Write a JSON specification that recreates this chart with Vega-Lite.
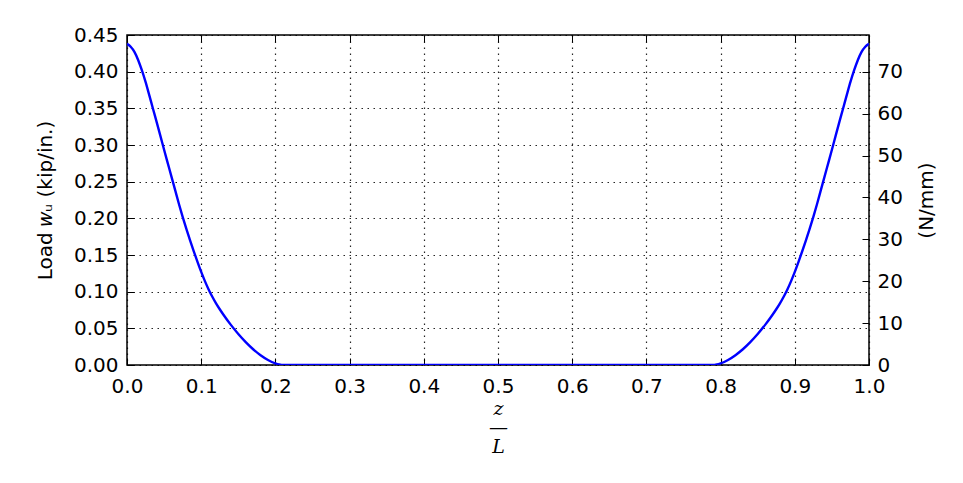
{
  "$schema": "https://vega.github.io/schema/vega-lite/v6.json",
  "width": 742,
  "height": 330,
  "autosize": {"type": "none"},
  "padding": {"left": 127, "top": 35, "right": 94, "bottom": 118},
  "background": "white",
  "config": {
    "view": {"stroke": "black", "strokeWidth": 1.5},
    "font": "DejaVu Sans",
    "axis": {
      "labelFont": "DejaVu Sans",
      "labelFontSize": 20,
      "labelColor": "black",
      "titleFont": "DejaVu Sans",
      "titleFontSize": 20,
      "titleFontWeight": "normal",
      "titleColor": "black",
      "domain": false,
      "tickColor": "black",
      "tickWidth": 1,
      "tickSize": -7,
      "gridColor": "black",
      "gridDash": [1.5, 4.5],
      "gridWidth": 1.2,
      "gridOpacity": 0.85
    }
  },
  "layer": [
    {
      "data": {
        "values": [
          {"z": 0.0, "w": 0.438}, {"z": 0.005, "w": 0.434}, {"z": 0.01, "w": 0.427},
          {"z": 0.015, "w": 0.416}, {"z": 0.02, "w": 0.402}, {"z": 0.025, "w": 0.386},
          {"z": 0.03, "w": 0.368}, {"z": 0.035, "w": 0.3495}, {"z": 0.04, "w": 0.3312},
          {"z": 0.045, "w": 0.3125}, {"z": 0.05, "w": 0.2935}, {"z": 0.055, "w": 0.275},
          {"z": 0.06, "w": 0.2565}, {"z": 0.065, "w": 0.2381}, {"z": 0.07, "w": 0.2196},
          {"z": 0.075, "w": 0.2021}, {"z": 0.08, "w": 0.1856}, {"z": 0.085, "w": 0.1701},
          {"z": 0.09, "w": 0.1551}, {"z": 0.095, "w": 0.1406}, {"z": 0.1, "w": 0.1269},
          {"z": 0.105, "w": 0.1144}, {"z": 0.11, "w": 0.1031}, {"z": 0.115, "w": 0.0931},
          {"z": 0.12, "w": 0.0841}, {"z": 0.125, "w": 0.076}, {"z": 0.13, "w": 0.0685},
          {"z": 0.14, "w": 0.0547}, {"z": 0.15, "w": 0.0423}, {"z": 0.16, "w": 0.0312},
          {"z": 0.17, "w": 0.0215}, {"z": 0.18, "w": 0.0134}, {"z": 0.19, "w": 0.0069},
          {"z": 0.2, "w": 0.0023}, {"z": 0.205, "w": 0.0008}, {"z": 0.211, "w": 0.0},
          {"z": 0.789, "w": 0.0}, {"z": 0.795, "w": 0.0008}, {"z": 0.8, "w": 0.0023},
          {"z": 0.81, "w": 0.0069}, {"z": 0.82, "w": 0.0134}, {"z": 0.83, "w": 0.0215},
          {"z": 0.84, "w": 0.0312}, {"z": 0.85, "w": 0.0423}, {"z": 0.86, "w": 0.0547},
          {"z": 0.87, "w": 0.0685}, {"z": 0.875, "w": 0.076}, {"z": 0.88, "w": 0.0841},
          {"z": 0.885, "w": 0.0931}, {"z": 0.89, "w": 0.1031}, {"z": 0.895, "w": 0.1144},
          {"z": 0.9, "w": 0.1269}, {"z": 0.905, "w": 0.1406}, {"z": 0.91, "w": 0.1551},
          {"z": 0.915, "w": 0.1701}, {"z": 0.92, "w": 0.1856}, {"z": 0.925, "w": 0.2021},
          {"z": 0.93, "w": 0.2196}, {"z": 0.935, "w": 0.2381}, {"z": 0.94, "w": 0.2565},
          {"z": 0.945, "w": 0.275}, {"z": 0.95, "w": 0.2935}, {"z": 0.955, "w": 0.3125},
          {"z": 0.96, "w": 0.3312}, {"z": 0.965, "w": 0.3495}, {"z": 0.97, "w": 0.368},
          {"z": 0.975, "w": 0.386}, {"z": 0.98, "w": 0.402}, {"z": 0.985, "w": 0.416},
          {"z": 0.99, "w": 0.427}, {"z": 0.995, "w": 0.434}, {"z": 1.0, "w": 0.438}
        ]
      },
      "mark": {"type": "line", "color": "#0000ff", "strokeWidth": 2.4, "interpolate": "monotone", "clip": true},
      "encoding": {
        "x": {
          "field": "z", "type": "quantitative",
          "scale": {"domain": [0, 1], "nice": false, "zero": false},
          "axis": {
            "orient": "bottom",
            "values": [0, 0.1, 0.2, 0.3, 0.4, 0.5, 0.6, 0.7, 0.8, 0.9, 1.0],
            "format": ".1f",
            "grid": true,
            "labelPadding": 18,
            "labelFlush": false,
            "title": ["z", "—", "L"],
            "titleFont": "DejaVu Serif",
            "titleFontStyle": "italic",
            "titleFontSize": 19,
            "titleLineHeight": 19,
            "titlePadding": 3
          }
        },
        "y": {
          "field": "w", "type": "quantitative",
          "scale": {"domain": [0, 0.45], "nice": false},
          "axis": {
            "orient": "left",
            "values": [0, 0.05, 0.1, 0.15, 0.2, 0.25, 0.3, 0.35, 0.4, 0.45],
            "format": ".2f",
            "grid": true,
            "labelPadding": 16,
            "labelFlush": false,
            "title": "Load 𝑤ᵤ (kip/in.)",
            "titlePadding": 18
          }
        }
      }
    },
    {
      "data": {"values": [{"n": 0}, {"n": 78.8}]},
      "mark": {"type": "point", "opacity": 0},
      "encoding": {
        "y": {
          "field": "n", "type": "quantitative",
          "scale": {"domain": [0, 78.8], "nice": false},
          "axis": {
            "orient": "right",
            "values": [0, 10, 20, 30, 40, 50, 60, 70],
            "format": "d",
            "grid": false,
            "labelPadding": 15,
            "labelFlush": false,
            "title": "(N/mm)",
            "titleAngle": 270,
            "titlePadding": 34
          }
        }
      }
    },
    {
      "data": {"values": [{"z": 0}, {"z": 1}]},
      "mark": {"type": "point", "opacity": 0},
      "encoding": {
        "x": {
          "field": "z", "type": "quantitative",
          "axis": {
            "orient": "top",
            "values": [0, 0.1, 0.2, 0.3, 0.4, 0.5, 0.6, 0.7, 0.8, 0.9, 1.0],
            "labels": false,
            "grid": false,
            "title": null
          }
        }
      }
    }
  ],
  "resolve": {"scale": {"y": "independent"}, "axis": {"x": "independent", "y": "independent"}}
}
